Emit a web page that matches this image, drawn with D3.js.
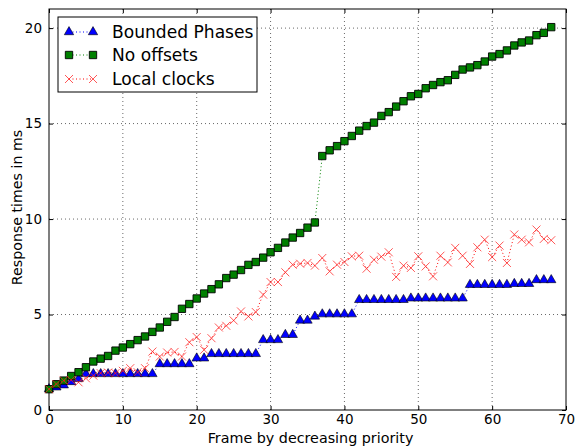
<!DOCTYPE html>
<html>
<head>
<meta charset="utf-8">
<script src="https://cdn.jsdelivr.net/npm/d3@7"></script>
<style>
  body { margin: 0; background: #fff; }
  text { font-family: "DejaVu Sans", sans-serif; }
</style>
</head>
<body>
<script>
// Frame indices (x axis)
const frames = d3.range(0, 69);

// Response times (ms)
const boundedPhases = [
  1.10, 1.19, 1.30, 1.47, 1.63, 1.89, 1.89, 1.89, 1.89, 1.89,
  1.89, 1.89, 1.89, 1.89, 1.89, 2.41, 2.41, 2.41, 2.41, 2.41,
  2.71, 2.71, 2.94, 2.94, 2.94, 2.94, 2.94, 2.94, 2.94, 3.67,
  3.67, 3.67, 3.94, 3.94, 4.69, 4.69, 4.90, 5.02, 5.02, 5.02,
  5.02, 5.02, 5.77, 5.77, 5.77, 5.77, 5.77, 5.77, 5.77, 5.85,
  5.85, 5.85, 5.85, 5.85, 5.85, 5.85, 5.85, 6.56, 6.56, 6.56,
  6.56, 6.56, 6.56, 6.61, 6.61, 6.61, 6.81, 6.81, 6.81
];

const noOffsets = [
  1.09, 1.35, 1.54, 1.78, 1.98, 2.24, 2.54, 2.69, 2.83, 3.11,
  3.27, 3.45, 3.66, 3.85, 4.09, 4.32, 4.62, 4.87, 5.30, 5.55,
  5.84, 6.10, 6.33, 6.58, 6.91, 7.09, 7.33, 7.60, 7.75, 7.98,
  8.26, 8.49, 8.77, 9.03, 9.27, 9.55, 9.82, 13.30, 13.60, 13.82,
  14.08, 14.35, 14.63, 14.87, 15.05, 15.40, 15.60, 15.89, 16.17, 16.43,
  16.55, 16.85, 17.02, 17.17, 17.27, 17.55, 17.83, 17.94, 18.06, 18.25,
  18.51, 18.64, 18.83, 19.09, 19.25, 19.35, 19.63, 19.75, 20.05
];

const localClocks = [
  1.09, 1.36, 1.54, 1.57, 1.45, 1.66, 1.80, 1.93, 1.96, 1.93,
  2.05, 2.19, 1.98, 2.19, 3.06, 2.80, 3.01, 3.04, 2.80, 3.55,
  3.82, 3.15, 3.76, 4.32, 4.41, 4.69, 5.16, 4.90, 5.13, 6.04,
  6.70, 6.70, 7.21, 7.61, 7.66, 7.70, 7.56, 7.96, 7.26, 7.61,
  7.75, 8.05, 8.08, 7.40, 7.87, 8.03, 8.26, 6.97, 7.56, 7.44,
  8.05, 7.52, 7.00, 8.08, 7.73, 8.49, 8.08, 7.65, 8.52, 8.92,
  8.01, 8.61, 7.70, 9.19, 8.92, 8.78, 9.45, 8.96, 8.89
];

const xTicks = [0, 10, 20, 30, 40, 50, 60, 70];
const yTicks = [0, 5, 10, 15, 20];

const seriesNames = ["Bounded Phases", "No offsets", "Local clocks"];

const W = 575, H = 448;
const m = { left: 49, right: 566, top: 9, bottom: 410 };

const svg = d3.select("body").append("svg")
  .attr("width", W)
  .attr("height", H);

const x = d3.scaleLinear().domain([0, 70]).range([m.left, m.right]);
const y = d3.scaleLinear().domain([0, 21]).range([m.bottom, m.top]);

// grid
const grid = svg.append("g");
grid.selectAll(".gx").data(xTicks.slice(1, -1)).enter().append("line")
  .attr("x1", d => x(d)).attr("x2", d => x(d))
  .attr("y1", m.top).attr("y2", m.bottom)
  .attr("stroke", "#000").attr("stroke-width", 0.6)
  .attr("stroke-dasharray", "1,3");
grid.selectAll(".gy").data(yTicks.slice(1)).enter().append("line")
  .attr("x1", m.left).attr("x2", m.right)
  .attr("y1", d => y(d)).attr("y2", d => y(d))
  .attr("stroke", "#000").attr("stroke-width", 0.6)
  .attr("stroke-dasharray", "1,3");

// axes (ticks inward, on all four sides)
const axB = svg.append("g").attr("transform", `translate(0,${m.bottom})`)
  .call(d3.axisBottom(x).tickValues(xTicks).tickSize(-4).tickPadding(4));
const axT = svg.append("g").attr("transform", `translate(0,${m.top})`)
  .call(d3.axisTop(x).tickValues(xTicks).tickSize(-4).tickFormat(""));
const axL = svg.append("g").attr("transform", `translate(${m.left},0)`)
  .call(d3.axisLeft(y).tickValues(yTicks).tickSize(-4).tickPadding(7));
const axR = svg.append("g").attr("transform", `translate(${m.right},0)`)
  .call(d3.axisRight(y).tickValues(yTicks).tickSize(-4).tickFormat(""));

[axB, axT, axL, axR].forEach(a => {
  a.select(".domain").remove();
  a.selectAll("line").attr("stroke", "#000");
  a.selectAll("text").attr("font-size", 13.5).attr("fill", "#000")
    .style("font-family", "DejaVu Sans");
});

svg.append("rect")
  .attr("x", m.left).attr("y", m.top)
  .attr("width", m.right - m.left).attr("height", m.bottom - m.top)
  .attr("fill", "none").attr("stroke", "#000").attr("stroke-width", 1);

// axis labels
svg.append("text")
  .attr("x", (m.left + m.right) / 2 + 3).attr("y", 443)
  .attr("text-anchor", "middle").attr("font-size", 14.3)
  .text("Frame by decreasing priority");
svg.append("text")
  .attr("transform", `translate(22,${(m.top + m.bottom) / 2 - 2}) rotate(-90)`)
  .attr("text-anchor", "middle").attr("font-size", 14.2)
  .text("Response times in ms");

const line = d3.line().x((d, i) => x(frames[i])).y(d => y(d));

const plot = svg.append("g");

function drawLine(vals, color) {
  plot.append("path").datum(vals)
    .attr("d", line)
    .attr("fill", "none").attr("stroke", color)
    .attr("stroke-width", 1).attr("stroke-dasharray", "1,2.5");
}

const tri = d3.symbol().type(d3.symbolTriangle).size(38);
const sq = d3.symbol().type(d3.symbolSquare).size(54);

function drawTriangles(g, pts) {
  g.selectAll(null).data(pts).enter().append("path")
    .attr("d", tri)
    .attr("transform", d => `translate(${d[0]},${d[1]})`)
    .attr("fill", "#0000ff").attr("stroke", "#000").attr("stroke-width", 0.6);
}
function drawSquares(g, pts) {
  g.selectAll(null).data(pts).enter().append("path")
    .attr("d", sq)
    .attr("transform", d => `translate(${d[0]},${d[1]})`)
    .attr("fill", "#008000").attr("stroke", "#000").attr("stroke-width", 0.9);
}
function drawCrosses(g, pts) {
  const s = 4;
  g.selectAll(null).data(pts).enter().append("path")
    .attr("d", d => `M${d[0]-s},${d[1]-s}L${d[0]+s},${d[1]+s}M${d[0]-s},${d[1]+s}L${d[0]+s},${d[1]-s}`)
    .attr("stroke", "#ff2020").attr("stroke-opacity", 0.75).attr("stroke-width", 1)
    .attr("fill", "none");
}

drawLine(boundedPhases, "#0000ff");
drawTriangles(plot, boundedPhases.map((v, i) => [x(frames[i]), y(v)]));
drawLine(noOffsets, "#008000");
drawSquares(plot, noOffsets.map((v, i) => [x(frames[i]), y(v)]));
drawLine(localClocks, "#ff0000");
drawCrosses(plot, localClocks.map((v, i) => [x(frames[i]), y(v)]));

// legend
const lg = svg.append("g");
lg.append("rect")
  .attr("x", 58).attr("y", 17).attr("width", 199).attr("height", 75)
  .attr("fill", "#fff").attr("stroke", "#000").attr("stroke-width", 1);

const rowY = [32, 55, 79];
const colors = ["#0000ff", "#008000", "#ff0000"];
seriesNames.forEach((name, i) => {
  lg.append("line")
    .attr("x1", 69).attr("x2", 93).attr("y1", rowY[i]).attr("y2", rowY[i])
    .attr("stroke", colors[i]).attr("stroke-width", 1)
    .attr("stroke-dasharray", "1,2.5");
  lg.append("text")
    .attr("x", 112).attr("y", rowY[i] + 6)
    .attr("font-size", 17.1).text(name);
});
drawTriangles(lg, [[69, rowY[0]], [93, rowY[0]]]);
drawSquares(lg, [[69, rowY[1]], [93, rowY[1]]]);
drawCrosses(lg, [[69, rowY[2]], [93, rowY[2]]]);
</script>
</body>
</html>
